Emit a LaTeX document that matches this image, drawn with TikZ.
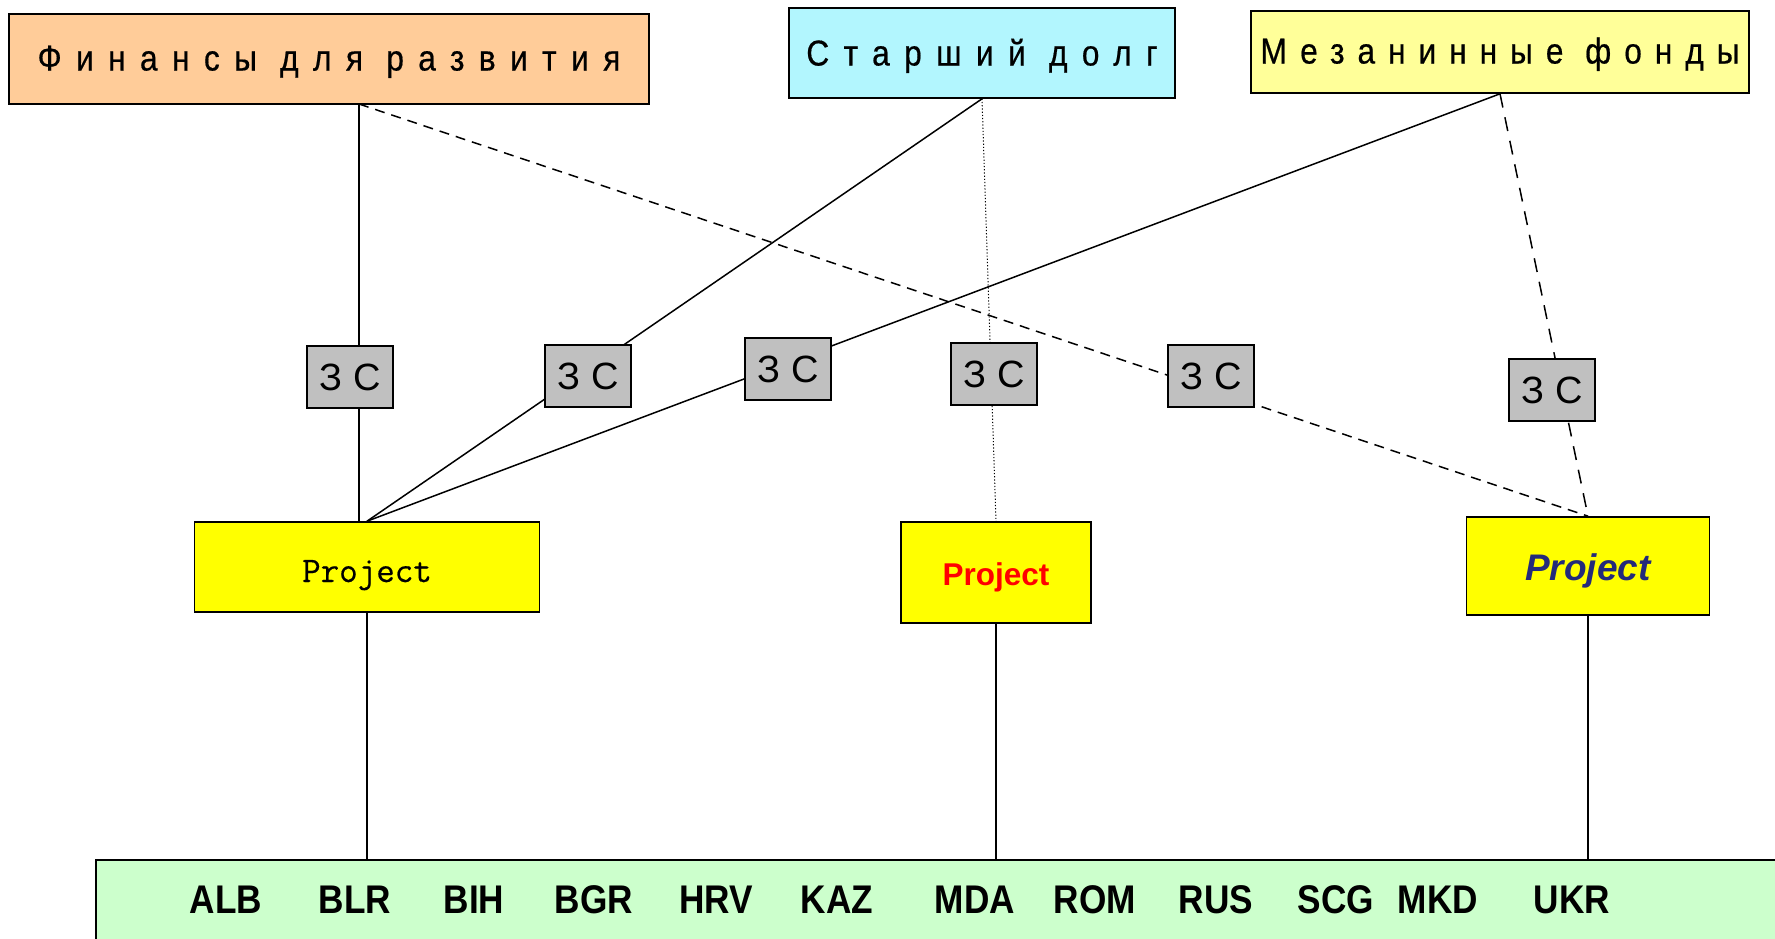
\documentclass[tikz,border=0pt]{standalone}
\usepackage{fontspec}
\setmainfont{Liberation Sans}
\newfontfamily\spacedfont[LetterSpace=40,FakeStretch=0.88,FakeBold=0.5]{Liberation Sans}
\newfontfamily\spacedfontb[LetterSpace=36,FakeStretch=0.88,FakeBold=0.5]{Liberation Sans}
\newfontfamily\condfont[FakeStretch=0.88]{Liberation Sans}
\newfontfamily\projmono[FakeBold=0.5]{Latin Modern Mono}
\definecolor{peach}{HTML}{FFCC99}
\definecolor{skyc}{HTML}{B2F6FE}
\definecolor{lemon}{HTML}{FFFF99}
\definecolor{zcgray}{HTML}{C0C0C0}
\definecolor{projy}{HTML}{FFFF00}
\definecolor{mint}{HTML}{CCFFCC}
\definecolor{navyt}{HTML}{232A7A}
\newcommand{\lowtext}[2]{\raisebox{0pt}[#1][0pt]{#2}}
\begin{document}
\begin{tikzpicture}[x=1pt,y=-1pt,
  box/.style={draw=black, line width=1.6pt, inner sep=0pt, anchor=center},
  topbox/.style={box, font=\spacedfont\fontsize{36}{40}\selectfont},
  zc/.style={box, fill=zcgray, minimum width=86pt, minimum height=62pt, font=\fontsize{38}{40}\selectfont},
  proj/.style={box, fill=projy},
  country/.style={inner sep=0pt, anchor=center, font=\condfont\bfseries\fontsize{40}{44}\selectfont},
  conn/.style={line width=1.5pt},
  dashA/.style={conn, dash pattern=on 10pt off 7pt},
  dashB/.style={conn, dash pattern=on 14pt off 10pt},
  dotA/.style={line width=1pt, dash pattern=on 1.2pt off 2pt}]
\useasboundingbox (0,0) rectangle (1775,938);
\clip (0,0) rectangle (1775,938);
\fill[white] (0,0) rectangle (1775,938);

% top boxes
\node[topbox, fill=peach, minimum width=640pt, minimum height=90pt] (fin) at (329,59) {\lowtext{23pt}{Финансы для развития}};
\node[topbox, fill=skyc, minimum width=386pt, minimum height=90pt] (sen) at (982,53) {\lowtext{25pt}{Старший долг}};
\node[topbox, fill=lemon, minimum width=498pt, minimum height=82pt, font=\spacedfontb\fontsize{36}{40}\selectfont] (mez) at (1500,52) {\lowtext{23pt}{Мезанинные фонды}};

% projects
\node[proj, minimum width=345pt, minimum height=90pt, font=\projmono\fontsize{36}{38}\selectfont] (p1) at (367,567) {\lowtext{30pt}{Project}};
\node[proj, minimum width=190pt, minimum height=101pt, font=\bfseries\fontsize{31.5}{34}\selectfont, text=red] (p2) at (996,572.5) {\lowtext{25pt}{Project}};
\node[proj, minimum width=243pt, minimum height=98pt, font=\bfseries\itshape\fontsize{37}{40}\selectfont, text=navyt] (p3) at (1588,566) {\lowtext{28pt}{Project}};

% country bar
\node[box, fill=mint, minimum width=1704pt, minimum height=100pt] (bar) at (948,910) {};
\node[country] (c1) at (226,900) {ALB};
\node[country] (c2) at (355,900) {BLR};
\node[country] (c3) at (474,900) {BIH};
\node[country] (c4) at (594,900) {BGR};
\node[country] (c5) at (716,900) {HRV};
\node[country] (c6) at (837,900) {KAZ};
\node[country] (c7) at (975,900) {MDA};
\node[country] (c8) at (1095,900) {ROM};
\node[country] (c9) at (1216,900) {RUS};
\node[country] (c10) at (1336,900) {SCG};
\node[country] (c11) at (1438,900) {MKD};
\node[country] (c12) at (1572,900) {UKR};

% connectors
\coordinate (finA) at (359,104);
\draw[conn] (finA) -- (finA |- p1.north);
\draw[conn] (sen.south) -- (p1.north);
\draw[conn] (mez.south) -- (p1.north);
\draw[dotA] (sen.south) -- (p2.north);
\draw[dashA] (finA) -- (p3.north);
\draw[dashB] (mez.south) -- (p3.north);
\draw[conn] (p1.south) -- (p1.south |- bar.north);
\draw[conn] (p2.south) -- (p2.south |- bar.north);
\draw[conn] (p3.south) -- (p3.south |- bar.north);

% ZC boxes on top of the lines
\node[zc] (z1) at (350,377) {З С};
\node[zc] (z2) at (588,376) {З С};
\node[zc] (z3) at (788,369) {З С};
\node[zc] (z4) at (994,374) {З С};
\node[zc] (z5) at (1211,376) {З С};
\node[zc] (z6) at (1552,390) {З С};
\end{tikzpicture}
\end{document}
